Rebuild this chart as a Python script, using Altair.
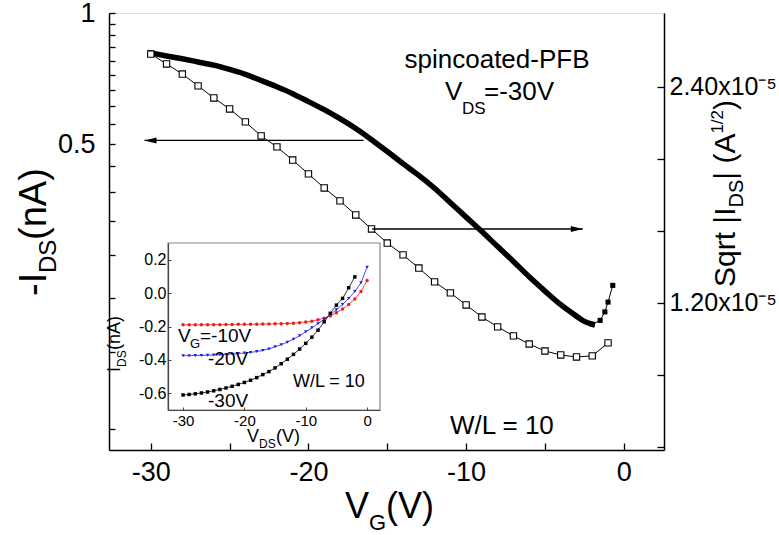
import altair as alt
import pandas as pd

# ---------------- data ----------------
# main plot, filled squares: -I_DS (nA) on the left log axis
vg_dense = [-30, -29, -28, -27, -26, -25, -24, -23, -22, -21, -20, -19, -18, -17, -16,
            -15, -14, -13, -12, -11, -10, -9, -8, -7, -6, -5, -4, -3, -2.5, -2]
ids_dense = [0.810, 0.797, 0.785, 0.772, 0.759, 0.742, 0.723, 0.700, 0.677, 0.653,
             0.626, 0.600, 0.572, 0.543, 0.512, 0.481, 0.451, 0.424, 0.396, 0.367,
             0.340, 0.315, 0.291, 0.269, 0.248, 0.230, 0.214, 0.2015, 0.196, 0.193]
vg_tail = [-2, -1.5, -1.2, -1.0, -0.7]
ids_tail = [0.193, 0.197, 0.206, 0.217, 0.237]

# main plot, open squares: sqrt|I_DS| (units of 1e-5 A^1/2) on the right axis
vg_open = [-30, -29, -28, -27, -26, -25, -24, -23, -22, -21, -20, -19, -18, -17, -16,
           -15, -14, -13, -12, -11, -10, -9, -8, -7, -6, -5, -4, -3, -2, -1]
sq_open = [2.583, 2.528, 2.472, 2.406, 2.339, 2.278, 2.206, 2.128, 2.067, 1.994,
           1.917, 1.839, 1.767, 1.689, 1.611, 1.533, 1.467, 1.394, 1.317, 1.256,
           1.189, 1.122, 1.067, 1.017, 0.972, 0.933, 0.911, 0.900, 0.906, 0.978]

# inset: I_DS (nA) vs V_DS (V)
vds_inset = [-30, -29, -28, -27, -26, -25, -24, -23, -22, -21, -20, -19, -18, -17, -16,
             -15, -14, -13, -12, -11, -10, -9, -8, -7, -6, -5, -4, -3, -2, -1, 0]
i_vg10 = [-0.190, -0.190, -0.190, -0.190, -0.189, -0.189, -0.189, -0.188, -0.188, -0.187,
          -0.187, -0.186, -0.186, -0.185, -0.185, -0.184, -0.183, -0.182, -0.180, -0.177,
          -0.173, -0.168, -0.160, -0.150, -0.137, -0.118, -0.095, -0.068, -0.035, 0.010, 0.075]
i_vg20 = [-0.375, -0.375, -0.374, -0.373, -0.372, -0.371, -0.369, -0.367, -0.365, -0.362,
          -0.359, -0.355, -0.350, -0.343, -0.334, -0.322, -0.309, -0.294, -0.276, -0.255,
          -0.232, -0.208, -0.183, -0.157, -0.129, -0.100, -0.068, -0.032, 0.010, 0.062, 0.155]
i_vg30 = [-0.610, -0.607, -0.603, -0.598, -0.592, -0.585, -0.577, -0.568, -0.558, -0.547,
          -0.535, -0.522, -0.506, -0.488, -0.470, -0.448, -0.423, -0.396, -0.367, -0.335,
          -0.301, -0.264, -0.222, -0.172, -0.121, -0.072, -0.032, 0.032, 0.097]
series_names = ["VG=-10V", "VG=-20V", "VG=-30V"]
series_colors = ["#ee1c1c", "#1c1cee", "#000000"]
series_shapes = ["circle", "triangle-down", "square"]

# ---------------- tables ----------------
df_dense = pd.DataFrame({"vg": vg_dense, "ids": ids_dense})
df_tail = pd.DataFrame({"vg": vg_tail, "ids": ids_tail})
df_open = pd.DataFrame({"vg": vg_open, "sq": sq_open})
rows = []
for name, ys in zip(series_names, [i_vg10, i_vg20, i_vg30]):
    for v, y in zip(vds_inset, ys):
        rows.append({"vds": v, "ii": y, "series": name})
df_inset = pd.DataFrame(rows)

FONT = "Liberation Sans"
W, H = 555, 437

common_axis = dict(domainColor="black", domainWidth=1.5, tickColor="black", tickWidth=1.3,
                   labelFont=FONT, labelColor="black", grid=False, zindex=1,
                   labelOverlap=False, labelFlush=False, labelBound=False)

x_main = alt.X("vg:Q", title=None,
               scale=alt.Scale(domain=[-32.65, 2.55], nice=False, zero=False),
               axis=alt.Axis(orient="bottom", values=[-30, -25, -20, -15, -10, -5, 0],
                             labelExpr="datum.value % 10 == 0 ? '' + datum.value : ''",
                             tickSize={"expr": "-7"}, labelPadding=16, labelFontSize=27,
                             **common_axis))
y_left = alt.Y("ids:Q", title=None,
               scale=alt.Scale(type="log", domain=[0.0993, 1], nice=False),
               axis=alt.Axis(orient="left", values=[k / 18 for k in range(2, 19)],
                             labelExpr="datum.value > 0.99 ? '1' : (abs(datum.value - 0.5) < 0.001 ? '0.5' : '')",
                             tickSize={"expr": "-6"}, labelPadding=20, labelFontSize=27,
                             **common_axis))
y_right = alt.Y("sq:Q", title=None,
                scale=alt.Scale(domain=[0.383, 2.811], nice=False, zero=False),
                axis=alt.Axis(orient="right", values=[0.4, 0.8, 1.2, 1.6, 2.0, 2.4],
                              labelExpr="abs(datum.value - 2.4) < 0.01 ? '2.40x10\u207b\u2075' : (abs(datum.value - 1.2) < 0.01 ? '1.20x10\u207b\u2075' : '')",
                              tickSize={"expr": "-7"}, labelPadding=12, labelFontSize=25,
                              **common_axis))

# left (log) group: filled squares + left arrow
dense_line = alt.Chart(df_dense).mark_line(color="black", strokeWidth=5.5, strokeCap="square",
                                           interpolate="monotone").encode(x=x_main, y=y_left)
tail_line = alt.Chart(df_tail).mark_line(color="black", strokeWidth=1).encode(x=x_main, y=y_left)
tail_pts = alt.Chart(df_tail).mark_point(shape="square", filled=True, color="black", size=26, opacity=1).encode(x=x_main, y=y_left)
arrow_l_df = pd.DataFrame({"vg": [-30.4], "vg2": [-16.5], "ids": [0.51]})
arrow_l = alt.Chart(arrow_l_df).mark_rule(color="black", strokeWidth=1.3).encode(x=x_main, x2="vg2:Q", y=y_left)
arrow_l_head = alt.Chart(arrow_l_df).mark_point(shape="M0,0L2,-0.5L2,0.5Z", filled=True, color="black", size=144, opacity=1).encode(x=x_main, y=y_left)
left_group = alt.layer(dense_line, tail_line, tail_pts, arrow_l, arrow_l_head)

# right (sqrt) group: open squares + right arrow
open_line = alt.Chart(df_open).mark_line(color="black", strokeWidth=1).encode(x=x_main, y=y_right)
open_pts = alt.Chart(df_open).mark_point(shape="square", filled=True, fill="white", stroke="black", strokeWidth=1.1, size=40, opacity=1).encode(x=x_main, y=y_right)
arrow_r_df = pd.DataFrame({"vg": [-2.6], "vg2": [-15.95], "sq": [1.611]})
arrow_r = alt.Chart(arrow_r_df).mark_rule(color="black", strokeWidth=1.3).encode(x=x_main, x2="vg2:Q", y=y_right)
arrow_r_head = alt.Chart(arrow_r_df).mark_point(shape="M0,0L-2,-0.5L-2,0.5Z", filled=True, color="black", size=144, opacity=1).encode(x=x_main, y=y_right)
right_group = alt.layer(open_line, open_pts, arrow_r, arrow_r_head)

main = alt.layer(left_group, right_group).resolve_scale(y="independent")

# inset
inset_axis = dict(domainColor="#444", domainWidth=1.2, tickColor="#444", tickWidth=1,
                  labelFont=FONT, labelColor="black", grid=False, zindex=2,
                  labelOverlap=False, labelFlush=False, labelBound=False)
x_in = alt.X("vds:Q", title=None,
             scale=alt.Scale(domain=[-32.45, 2.1], range=[59, 271], nice=False, zero=False),
             axis=alt.Axis(orient="bottom", offset=-40, values=[-30, -20, -10, 0],
                           labelExpr="'' + datum.value", labelFontSize=15,
                           tickSize={"expr": "-3"}, labelPadding=6, **inset_axis))
y_in = alt.Y("ii:Q", title=None,
             scale=alt.Scale(domain=[-0.7, 0.3], range=[397, 230], nice=False, zero=False),
             axis=alt.Axis(orient="left", offset=-59, values=[-0.6, -0.4, -0.2, 0, 0.2],
                           labelExpr="replace(format(datum.value, '.1f'), '\u2212', '-')",
                           labelFontSize=16, tickSize={"expr": "-3"}, labelPadding=5, **inset_axis))
frame_df = pd.DataFrame({"vds": [-32.45], "vds2": [2.1], "ii": [-0.7], "ii2": [0.3]})
inset_frame = alt.Chart(frame_df).mark_rect(fill="white", stroke="#888", strokeWidth=1.2).encode(
    x=x_in, x2="vds2:Q", y=y_in, y2="ii2:Q")
col = alt.Color("series:N", scale=alt.Scale(domain=series_names, range=series_colors), legend=None)
shp = alt.Shape("series:N", scale=alt.Scale(domain=series_names, range=series_shapes), legend=None)
inset_lines = alt.Chart(df_inset).mark_line(strokeWidth=0.8).encode(x=x_in, y=y_in, color=col, detail="series:N")
inset_pts = alt.Chart(df_inset).mark_point(filled=True, size=12, opacity=1).encode(x=x_in, y=y_in, color=col, shape=shp)
inset = alt.layer(inset_frame, inset_lines, inset_pts)


def txt(text, x, y, size, angle=0, align="left", color="black"):
    return alt.Chart(alt.Data(values=[{}])).mark_text(
        text=text, font=FONT, fontSize=size, angle=angle, align=align,
        baseline="alphabetic", color=color).encode(x=alt.value(x), y=alt.value(y))


texts = [
    # annotations in main plot
    txt("spincoated-PFB", 388, 55, 26, align="center"),
    txt("V", 336, 87, 26), txt("DS", 353, 101, 17), txt("=-30V", 375, 87, 26),
    txt("W/L = 10", 341, 421, 26),
    # inset annotations
    txt("V", 69, 329, 19), txt("G", 81, 335, 13), txt("=-10V", 91, 329, 19),
    txt("-20V", 99, 352, 19),
    txt("-30V", 99, 394, 19),
    txt("W/L = 10", 184, 374, 18),
    # inset axis titles
    txt("I", 11, 359, 18, angle=270), txt("DS", 17, 354, 12, angle=270), txt("(nA)", 11, 337, 18, angle=270),
    txt("V", 138, 429, 18), txt("DS", 150, 435, 12), txt("(V)", 167, 429, 18),
    # main axis titles
    txt("V", 236, 505, 36), txt("G", 260, 517, 22), txt("(V)", 277, 505, 36),
    txt("-I", -63, 283, 38, angle=270), txt("DS", -53, 260, 24, angle=270), txt("(nA)", -63, 227, 38, angle=270),
    txt("Sqrt |I", 626, 274, 30, angle=270), txt("DS", 634, 194.5, 20, angle=270),
    txt("| (A", 626, 166.7, 30, angle=270), txt("1/2", 614, 120.6, 17, angle=270),
    txt(")", 626, 97, 30, angle=270),
]

chart = alt.layer(main, inset, *texts).resolve_scale(x="independent", y="independent").properties(
    width=W, height=H,
    padding={"left": 109, "top": 13, "right": 115, "bottom": 85},
    autosize=alt.AutoSizeParams(type="none"),
).configure_view(stroke="black", strokeWidth=1.5).configure(background="white")

chart.save("out.html", embed_options={"renderer": "svg", "actions": False})
